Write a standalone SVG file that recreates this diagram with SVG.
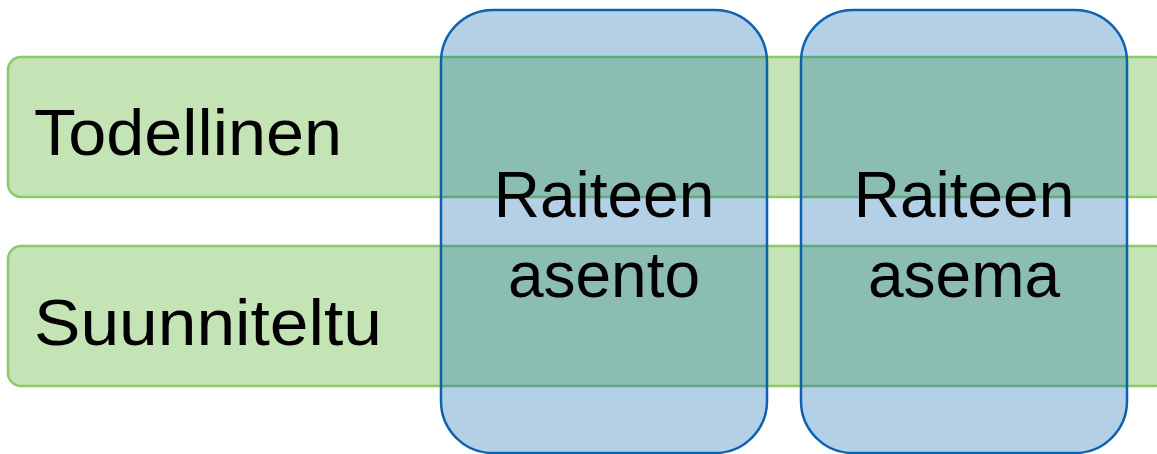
<svg xmlns="http://www.w3.org/2000/svg" width="1157" height="454" viewBox="0 0 1157 454">
<style>
.bar{fill:#c5e4b6;stroke:#8cc86c;stroke-width:2.5}
.col{fill:rgb(8,98,172);fill-opacity:0.3;stroke:#0d62b0;stroke-width:2.5}
.t{font-family:"Liberation Sans","Open Sans",sans-serif;font-size:64px;fill:#000}
.c{text-anchor:middle}
</style>
<rect width="1157" height="454" fill="#fff"/>
<g id="todellinen">
<rect class="bar" x="8" y="57" width="1160" height="140" rx="13"/>
<text class="t" x="34" y="155" textLength="308" lengthAdjust="spacingAndGlyphs">Todellinen</text>
</g>
<g id="suunniteltu">
<rect class="bar" x="8" y="246" width="1160" height="140" rx="13"/>
<text class="t" x="34" y="345" textLength="348" lengthAdjust="spacingAndGlyphs">Suunniteltu</text>
</g>
<g id="raiteen-asento">
<rect class="col" x="441" y="10" width="326" height="443" rx="52"/>
<text class="t c" x="604" y="217">Raiteen</text>
<text class="t c" x="604" y="297">asento</text>
</g>
<g id="raiteen-asema">
<rect class="col" x="801" y="10" width="326" height="443" rx="52"/>
<text class="t c" x="964" y="217">Raiteen</text>
<text class="t c" x="964" y="297">asema</text>
</g>
<g id="connectors"/>
</svg>
